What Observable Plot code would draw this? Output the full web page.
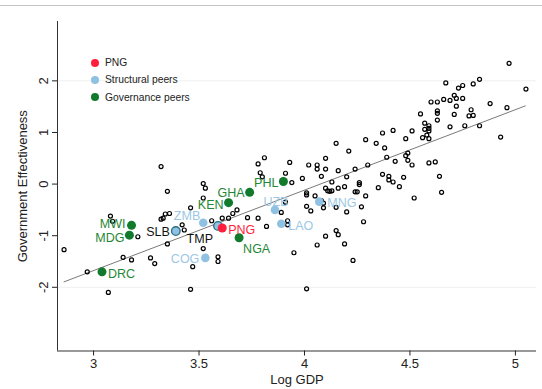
<!DOCTYPE html>
<html><head><meta charset="utf-8">
<script src="https://cdn.jsdelivr.net/npm/d3@7"></script>
<script src="https://cdn.jsdelivr.net/npm/@observablehq/plot@0.6"></script>
<style>
body{margin:0;background:#fff;font-family:"Liberation Sans",Arial,Helvetica,sans-serif;}
#wrap{position:relative;width:542px;height:389px;overflow:hidden;}
#topline{position:absolute;left:0;top:5px;width:542px;border-top:1px solid #c4c4c4;}
#legend{position:absolute;left:91px;top:54px;font-size:10.3px;color:#222;line-height:17.3px;}
#legend .it{display:flex;align-items:center;}
#legend .dot{width:8px;height:8px;border-radius:50%;display:inline-block;margin-right:6px;}
</style></head>
<body><div id="wrap"><div id="chart"></div><div id="topline"></div><div id="legend"></div></div>
<script>
// All countries (log GDP, government effectiveness)
const allX = [2.86,2.97,3.07,3.08,3.09,3.14,3.18,3.21,3.27,3.29,3.32,3.35,3.36,3.34,3.32,3.33,3.35,3.42,3.43,3.46,3.47,3.46,3.52,3.53,3.52,3.52,3.56,3.59,3.59,3.61,3.64,3.66,3.68,3.73,3.78,3.82,3.78,3.79,3.81,3.80,3.91,3.93,3.94,3.99,4.02,3.89,3.92,3.92,3.91,3.95,4.01,4.06,4.06,4.10,4.08,4.10,4.15,4.16,4.21,4.24,4.29,4.30,4.34,4.37,4.38,4.39,4.42,4.43,4.37,4.40,4.40,4.42,4.47,4.13,4.20,4.26,4.26,4.35,4.45,4.10,4.11,4.12,4.13,4.16,4.19,4.24,4.25,4.29,4.01,4.01,4.05,4.08,4.09,4.09,4.01,4.03,4.15,4.20,4.27,4.52,4.28,4.15,4.16,4.10,4.06,4.19,4.23,4.64,4.65,4.93,4.97,5.05,4.67,4.73,4.75,4.80,4.83,4.60,4.63,4.66,4.69,4.71,4.72,4.75,4.72,4.63,4.63,4.55,4.71,4.79,4.78,4.80,4.88,4.96,4.63,4.57,4.59,4.59,4.57,4.59,4.69,4.76,4.83,4.51,4.58,4.56,4.59,4.48,4.49,4.48,4.49,4.51,4.59,4.62];
const allY = [-1.27,-1.70,-2.10,-0.62,-0.72,-1.42,-1.47,-1.02,-1.43,-1.54,0.34,-0.14,-0.57,-0.58,-0.68,-0.66,-1.16,-0.79,-0.89,-0.46,-1.60,-2.04,0.01,-0.08,-0.27,-1.25,-0.71,-1.41,-1.50,-0.66,-0.66,-0.57,-0.50,-0.65,-0.66,-0.82,0.39,0.22,0.51,0.14,0.21,0.42,0.03,0.11,0.37,-0.55,-0.71,-0.79,-0.35,-1.33,-2.03,0.37,0.29,0.29,0.15,0.50,0.79,0.26,0.64,0.29,0.86,0.37,0.79,0.99,0.70,0.52,1.04,0.44,0.19,0.15,0.08,0.04,0.13,0.04,0.14,0.03,-0.01,-0.07,-0.05,-0.08,-0.13,-0.14,-0.13,-0.08,-0.05,-0.15,-0.15,-0.23,-0.17,-0.21,-0.23,-0.32,-0.37,-0.46,-0.43,-0.52,-0.45,-0.54,-0.44,-0.27,-0.73,-0.90,-0.98,-1.01,-1.18,-1.16,-1.48,0.15,-0.16,0.91,2.34,1.84,1.96,1.86,1.91,1.94,2.03,1.59,1.59,1.64,1.62,1.72,1.66,1.66,1.51,1.42,1.37,1.36,1.35,1.44,1.32,1.33,1.56,1.48,1.24,1.18,1.13,1.08,1.06,1.03,1.11,1.13,1.13,1.03,0.95,0.90,0.88,0.88,0.60,0.55,0.46,0.37,0.41,0.43];

// Structural peers
const structCodes = ["ZMB","SLB","TMP","COG","UZB","LAO","MNG"];
const structX = [3.52,3.39,3.59,3.53,3.86,3.89,4.07];
const structY = [-0.75,-0.91,-0.81,-1.43,-0.50,-0.77,-0.34];

// Governance peers
const govCodes = ["PHL","GHA","KEN","NGA","MWI","MDG","DRC"];
const govX = [3.90,3.74,3.64,3.69,3.18,3.17,3.04];
const govY = [0.05,-0.16,-0.36,-1.04,-0.80,-0.99,-1.70];

// PNG
const pngCodes = ["PNG"];
const pngX = [3.61];
const pngY = [-0.85];

// Fitted line end points
const fitX = [2.86, 5.047];
const fitY = [-1.894, 1.515];

const xTicks = [3, 3.5, 4, 4.5, 5];
const yTicks = [-2, -1, 0, 1, 2];
const legendLabels = ["PNG", "Structural peers", "Governance peers"];

// ---- styles ----
const RED = "#ff1f3d", BLUE = "#8fc1e2", BLUE_TXT = "#9cc8e6", GREEN = "#127a2c", GREEN_TXT = "#1f8735";
const FONT = "Liberation Sans, Arial, Helvetica, sans-serif";
// label placement: [dx, dy, anchor]
const place = {
  PHL:[-5,1,"end"], GHA:[-5,1,"end"], KEN:[-5,2,"end"], NGA:[4,11,"start"],
  MWI:[-6,-1.5,"end"], MDG:[-5,3,"end"], DRC:[6,2,"start"], PNG:[6,2,"start"],
  SLB:[-6,1,"end"], TMP:[-5,13,"end"], ZMB:[-3,-7,"end"], COG:[-6,1,"end"],
  UZB:[1,-8,"middle"], LAO:[7,2,"start"], MNG:[8,1,"start"]
};

const all = allX.map((x,i)=>({x, y: allY[i]}));
const struct = structCodes.map((c,i)=>({c, x: structX[i], y: structY[i]}));
const gov = govCodes.map((c,i)=>({c, x: govX[i], y: govY[i]}));
const png = pngCodes.map((c,i)=>({c, x: pngX[i], y: pngY[i]}));
const fit = fitX.map((x,i)=>({x, y: fitY[i]}));

const xDom = [2.829, 5.10], yDom = [-3.234, 3.15];

function labels(arr, color) {
  return arr.map(d => {
    const p = place[d.c] || [6,0,"start"];
    return Plot.text([d], {x:"x", y:"y", text:"c", dx:p[0], dy:p[1], textAnchor:p[2], fill:color, fontSize:12.5, fontFamily:FONT});
  });
}

const chart = Plot.plot({
  width: 542, height: 389,
  marginLeft: 57, marginRight: 6, marginTop: 21, marginBottom: 38.5,
  style: {fontFamily: FONT, fontSize: "13px", background: "white", color: "#222"},
  x: {domain: xDom, ticks: xTicks},
  y: {domain: yDom, ticks: yTicks},
  marks: [
    Plot.ruleY([-2, 2], {stroke: "#efefef", strokeWidth: 1}),
    Plot.ruleX([xDom[0]], {stroke: "#333", strokeWidth: 1}),
    Plot.ruleY([yDom[0]], {stroke: "#333", strokeWidth: 1}),
    Plot.axisX({ticks: xTicks, tickSize: 5, tickPadding: 3, tickFormat: d => String(d), fontSize: 13, label: "Log GDP", labelAnchor: "center", labelOffset: 33, labelArrow: "none"}),
    Plot.axisY({ticks: yTicks, tickSize: 5, tickPadding: 5, tickRotate: -90, tickFormat: d => d < 0 ? "-" + Math.abs(d) : String(d), fontSize: 13, label: "Government Effectiveness", labelAnchor: "center", labelOffset: 40, labelArrow: "none"}),
    Plot.line(fit, {x: "x", y: "y", stroke: "#7a7a7a", strokeWidth: 1}),
    Plot.dot(all, {x: "x", y: "y", r: 2, stroke: "#000", strokeWidth: 1.2, fill: "none"}),
    Plot.dot(struct, {x: "x", y: "y", r: 4.3, fill: BLUE, stroke: d => (d.c === "SLB" || d.c === "TMP") ? "#2b6f7f" : "none", strokeWidth: 1.3}),
    Plot.dot(gov, {x: "x", y: "y", r: 4.5, fill: GREEN}),
    Plot.dot(png, {x: "x", y: "y", r: 4.5, fill: RED}),
    ...labels(struct.filter(d => d.c !== "SLB" && d.c !== "TMP"), BLUE_TXT),
    ...labels(struct.filter(d => d.c === "SLB" || d.c === "TMP"), "#111"),
    ...labels(gov, GREEN_TXT),
    ...labels(png, RED)
  ]
});
document.getElementById("chart").appendChild(chart);

const legColors = [RED, BLUE, GREEN];
const leg = document.getElementById("legend");
legendLabels.forEach((t, i) => {
  const div = document.createElement("div");
  div.className = "it";
  div.innerHTML = `<span class="dot" style="background:${legColors[i]}"></span><span>${t}</span>`;
  leg.appendChild(div);
});
</script></body></html>
